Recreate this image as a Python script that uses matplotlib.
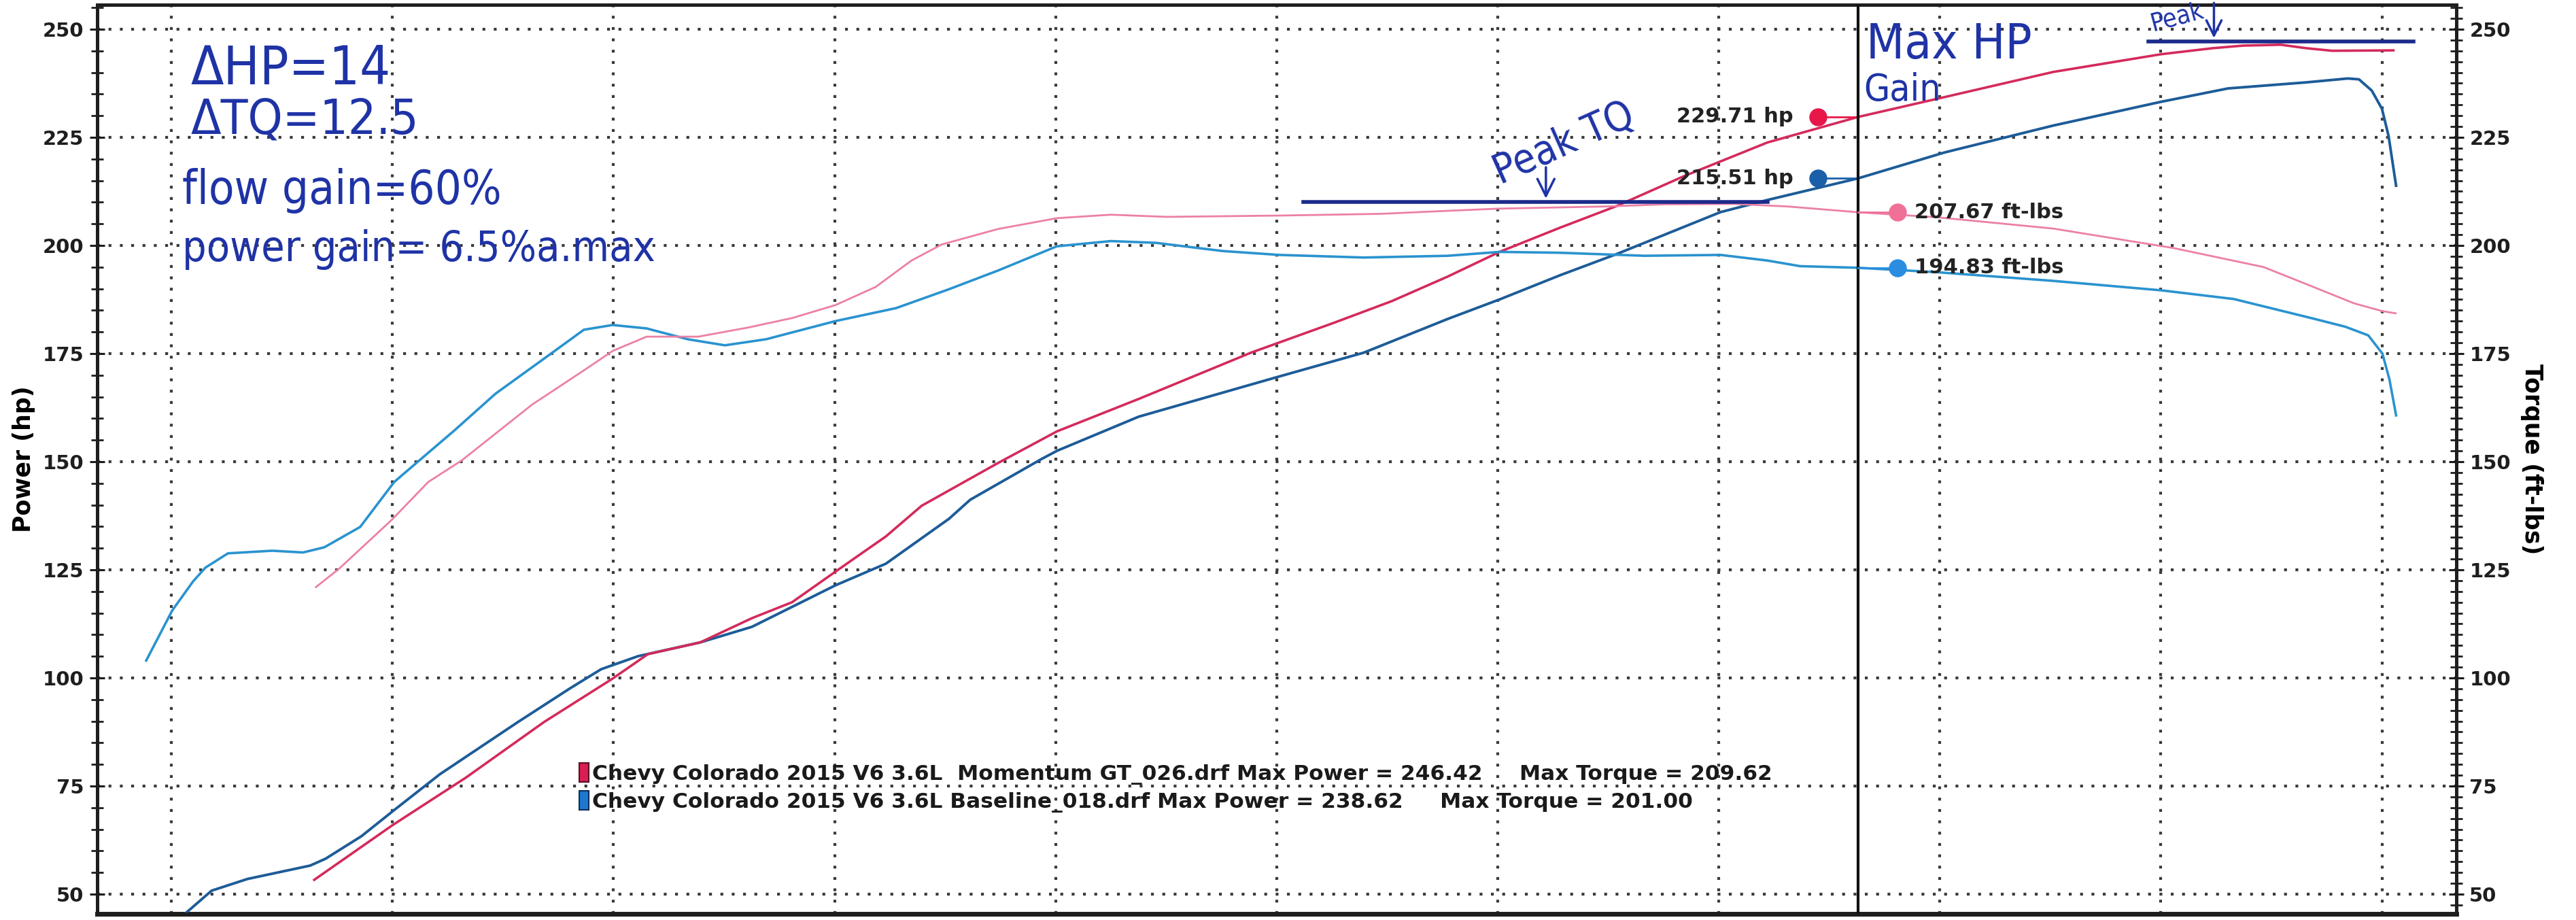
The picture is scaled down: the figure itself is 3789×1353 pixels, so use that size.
import matplotlib
matplotlib.use("Agg")
import matplotlib.pyplot as plt
from matplotlib import font_manager
from matplotlib.patches import Patch
from matplotlib.ticker import MultipleLocator

# dyno sheet: Chevy Colorado 2015 V6 3.6L, baseline vs Momentum GT
# x axis is engine speed (rpm), not labelled on the print-out

# baseline power (hp)
bh_rpm = [1020, 1091, 1172, 1314, 1349, 1430, 1501, 1607, 1784, 1902,
          1972, 2055, 2196, 2313, 2502, 2616, 2759, 2807, 2968, 3003,
          3188, 3506, 3697, 3887, 4004, 4141, 4269, 4504, 4610, 4815,
          5011, 5256, 5500, 5652, 5829, 5923, 5948, 5977, 6000, 6015, 6032]
bh_hp = [44.5, 50.8, 53.5, 56.6, 58.2, 63.4, 69.2, 77.7, 89.8, 97.6,
         102.0, 105.0, 108.2, 111.8, 121.4, 126.4, 136.8, 141.2, 150.6, 152.5,
         160.4, 169.7, 175.2, 183.0, 187.5, 193.1, 198.0, 207.7, 210.5, 215.5,
         221.5, 227.7, 233.2, 236.3, 237.7, 238.6, 238.4, 235.8, 231.6, 225.3, 213.8]

# momentum GT power (hp)
ph_rpm = [1323, 1501, 1667, 1843, 1996, 2078, 2196, 2313, 2404, 2522,
          2616, 2697, 2870, 3003, 3188, 3442, 3632, 3760, 3887, 4004,
          4141, 4269, 4421, 4610, 4815, 5011, 5256, 5500, 5617, 5686,
          5771, 5829, 5888, 6026]
ph_hp = [53.3, 66.0, 77.0, 89.8, 99.7, 105.5, 108.2, 113.8, 117.5, 126.0,
         132.7, 139.8, 149.7, 157.0, 164.5, 175.2, 182.2, 187.1, 192.8, 198.5,
         204.1, 209.1, 216.0, 223.8, 229.7, 234.3, 240.1, 244.2, 245.6, 246.2,
         246.4, 245.6, 245.0, 245.1]

# baseline torque (ft-lbs)
bt_rpm = [943, 1002, 1049, 1077, 1128, 1228, 1298, 1346, 1427, 1504,
          1569, 1640, 1733, 1863, 1933, 1998, 2075, 2168, 2252, 2345,
          2502, 2639, 2757, 2870, 3003, 3125, 3226, 3378, 3506, 3697,
          3887, 4004, 4141, 4332, 4504, 4610, 4684, 4815, 4994, 5256,
          5502, 5665, 5840, 5917, 5969, 6001, 6017, 6032]
bt_tq = [104.0, 115.6, 122.3, 125.5, 128.8, 129.4, 129.0, 130.2, 134.9, 145.3,
         151.0, 157.2, 165.7, 175.3, 180.5, 181.6, 180.8, 178.3, 176.9, 178.3,
         182.5, 185.5, 189.8, 194.2, 199.8, 201.0, 200.6, 198.7, 197.8, 197.2,
         197.6, 198.5, 198.3, 197.6, 197.8, 196.5, 195.2, 194.83, 193.8, 191.8,
         189.6, 187.6, 183.2, 181.2, 179.2, 175.0, 169.0, 160.7]

# momentum GT torque (ft-lbs)
pt_rpm = [1327, 1380, 1498, 1581, 1657, 1816, 1933, 1998, 2075, 2192,
          2304, 2404, 2502, 2593, 2674, 2742, 2870, 3003, 3125, 3251,
          3506, 3735, 3887, 4001, 4243, 4379, 4533, 4656, 4815, 4994,
          5256, 5528, 5732, 5840, 5937, 6001, 6031]
pt_tq = [121.0, 125.3, 136.5, 145.3, 150.3, 163.2, 171.1, 175.6, 178.9, 178.9,
         181.0, 183.2, 186.2, 190.4, 196.5, 200.2, 203.8, 206.3, 207.1, 206.6,
         206.9, 207.3, 208.0, 208.5, 209.0, 209.5, 209.6, 209.0, 207.67, 206.5,
         203.9, 199.4, 195.0, 190.6, 186.6, 184.8, 184.3]

# cursor readout
cursor_rpm = 4815
cursor_hp = [229.71, 215.51]
cursor_tq = [207.67, 194.83]

legend_labels = [
    "Chevy Colorado 2015 V6 3.6L  Momentum GT_026.drf Max Power = 246.42     Max Torque = 209.62",
    "Chevy Colorado 2015 V6 3.6L Baseline_018.drf Max Power = 238.62     Max Torque = 201.00",
]
y_ticks = [50, 75, 100, 125, 150, 175, 200, 225, 250]
x_grid = list(range(1000, 6001, 500))

C_BH = "#1d5c98"
C_BT = "#2a93cf"
C_PH = "#d42a5b"
C_PT = "#ec80a4"
INK = "#1f33a6"
DARK = "#1e1e1e"


def hand_font():
    # a narrow face looks closer to the pen notes; fall back to plain DejaVu
    fonts = font_manager.fontManager.ttflist
    for f in fonts:
        if f.name == "Liberation Sans Narrow":
            return {"family": "Liberation Sans Narrow"}, 1.0
    for fam in ("DejaVu Sans", "Noto Sans"):
        for f in fonts:
            if f.name == fam and f.stretch == "condensed" and f.weight in (400, "normal", "regular"):
                return {"family": fam, "fontstretch": "condensed"}, 0.9
    return {"family": "DejaVu Sans"}, 0.78


HAND, hs = hand_font()

fig = plt.figure(figsize=(37.89, 13.53), dpi=100)
ax = fig.add_axes([0.0377, 0.0067, 0.9158, 0.9882])
ax2 = ax.twinx()

ylo, yhi = 45.44, 255.66
for a in (ax, ax2):
    a.set_xlim(832, 6168)
    a.set_ylim(ylo, yhi)

# grid
ax.set_xticks(x_grid)
ax.tick_params(axis="x", length=0, labelbottom=False)
ax.grid(True, which="major", linestyle=(0, (1, 3)), linewidth=3, color="#3a3a3a")

ax.set_yticks(y_ticks, [str(t) for t in y_ticks], fontweight="bold", fontsize=21)
ax.yaxis.set_minor_locator(MultipleLocator(5))
ax.tick_params(axis="y", which="major", direction="inout", length=16, width=2.2,
               pad=6, colors=DARK)
ax.tick_params(axis="y", which="minor", direction="inout", length=13, width=2.0,
               colors=DARK)

ax2.set_yticks(y_ticks, [str(t) for t in y_ticks], fontweight="bold", fontsize=21)
ax2.yaxis.set_minor_locator(MultipleLocator(2.5))
ax2.tick_params(axis="y", which="major", direction="inout", length=16, width=2.2,
                pad=6, colors=DARK)
ax2.tick_params(axis="y", which="minor", direction="inout", length=13, width=2.0,
                colors=DARK)

for s in ax.spines.values():
    s.set_linewidth(3.5)
    s.set_color(DARK)
ax.spines["bottom"].set_linewidth(5)
for s in ax2.spines.values():
    s.set_linewidth(3.5)
    s.set_color(DARK)

ax.set_ylabel("Power (hp)", fontsize=25, fontweight="bold", ha="center", va="center")
ax.yaxis.set_label_coords(-0.0311, 0.5)
ax2.set_ylabel("Torque (ft-lbs)", fontsize=25, fontweight="bold", rotation=270,
               ha="center", va="center")
ax2.yaxis.set_label_coords(1.0320, 0.5)

# curves
ax.plot(bh_rpm, bh_hp, color=C_BH, lw=2.8, zorder=3)
ax.plot(ph_rpm, ph_hp, color=C_PH, lw=2.6, zorder=3)
ax2.plot(bt_rpm, bt_tq, color=C_BT, lw=2.6, zorder=3)
ax2.plot(pt_rpm, pt_tq, color=C_PT, lw=2.0, zorder=3)

# cursor line and readouts
ax2.axvline(cursor_rpm, color="#111111", lw=3, zorder=4)
hp_x = cursor_rpm - 91
tq_x = cursor_rpm + 90
for v, c in zip(cursor_hp, ["#e8174a", "#1a5fa8"]):
    ax.plot([hp_x, cursor_rpm], [v, v], color=c, lw=2, zorder=5)
    ax.plot(hp_x, v, "o", ms=18, color=c, zorder=6)
    ax.text(hp_x - 55, v, f"{v:.2f} hp", ha="right", va="center",
            fontsize=22, fontweight="bold", color="#222222", zorder=6)
for v, c in zip(cursor_tq, ["#f07098", "#2a8de0"]):
    ax2.plot([cursor_rpm, tq_x], [v, v], color=c, lw=2, zorder=5)
    ax2.plot(tq_x, v, "o", ms=18, color=c, zorder=6)
    ax2.text(tq_x + 38, v, f"{v:.2f} ft-lbs", ha="left", va="center",
             fontsize=22, fontweight="bold", color="#222222", zorder=6)

# legend
handles = [Patch(facecolor="#d81e54", edgecolor="#5a0d20", lw=1.5),
           Patch(facecolor="#1f78d0", edgecolor="#0d2f5a", lw=1.5)]
leg = ax2.legend(handles, legend_labels, loc="upper left", bbox_to_anchor=(0.2043, 0.1660),
                 frameon=False, handlelength=0.45, handleheight=1.0,
                 handletextpad=0.15, labelspacing=0.3, borderpad=0, borderaxespad=0,
                 prop={"size": 22.5, "weight": "bold"})
for t in leg.get_texts():
    t.set_color("#1a1a1a")

# handwritten notes
ax2.text(1043, 237.3, "\u0394HP=14", fontsize=63 * hs, color=INK, va="baseline", **HAND)
ax2.text(1043, 225.8, "\u0394TQ=12.5", fontsize=58 * hs, color=INK, va="baseline", **HAND)
ax2.text(1025, 209.6, "flow gain=60%", fontsize=55 * hs, color=INK, va="baseline", **HAND)
ax2.text(1025, 196.4, "power gain= 6.5%a.max", fontsize=50 * hs, color=INK,
         va="baseline", **HAND)

ax2.plot([3561, 4610], [210.1, 210.1], color="#1b2a8a", lw=4, zorder=5)
ax2.annotate("", xy=(4109, 210.4), xytext=(4109, 218.5),
             arrowprops=dict(arrowstyle="->", color=INK, lw=2.5, mutation_scale=45))
ax2.text(4150, 223.5, "Peak TQ", fontsize=48 * hs, color=INK,
         rotation=24, ha="center", va="center", **HAND)

ax2.text(4833, 243.2, "Max HP", fontsize=58 * hs, color=INK, va="baseline", **HAND)
ax2.text(4827, 233.5, "Gain", fontsize=44 * hs, color=INK, va="baseline", **HAND)

ax2.plot([5471, 6071], [247.2, 247.2], color="#1b2a8a", lw=4, zorder=5)
ax2.annotate("", xy=(5620, 247.5), xytext=(5620, 256.5), annotation_clip=False,
             arrowprops=dict(arrowstyle="->", color=INK, lw=2.5, mutation_scale=40))
ax2.text(5470, 249.6, "Peak", fontsize=30 * hs, color=INK,
         rotation=15, va="baseline", clip_on=False, **HAND)

fig.savefig("out.png", dpi=100)
